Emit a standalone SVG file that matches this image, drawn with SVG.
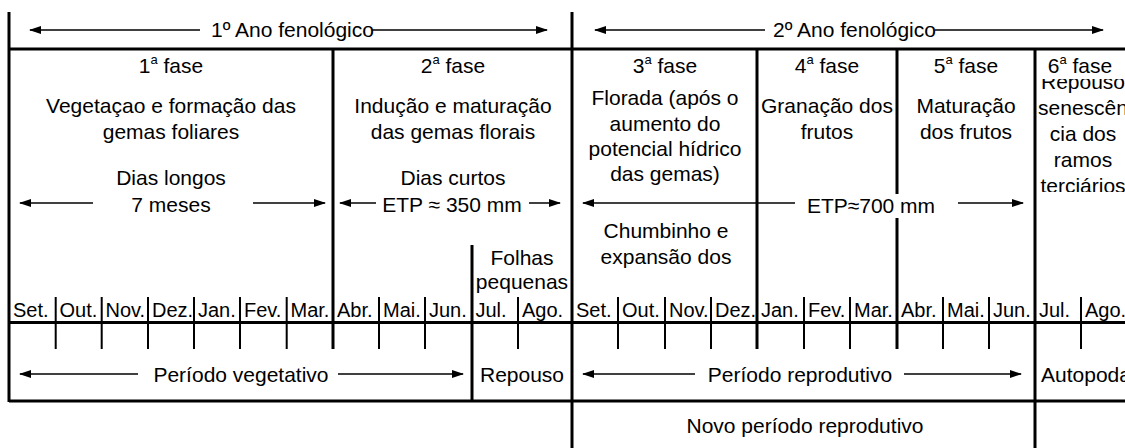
<svg xmlns="http://www.w3.org/2000/svg" width="1125" height="448" viewBox="0 0 1125 448">
<style>
text{font-family:"Liberation Sans",Arial,sans-serif;font-size:21px;fill:#000}
#months text{font-size:20px}
.c{text-anchor:middle}
.sup{font-size:13px}
.g{stroke:#000;stroke-width:3;fill:none}
.t{stroke:#000;stroke-width:2;fill:none}
.a{stroke:#000;stroke-width:1.5;fill:none}
.ar{marker-end:url(#ah)}
.al{marker-start:url(#ah)}
</style>
<defs>
<marker id="ah" viewBox="0 0 12 8" refX="11" refY="4" markerWidth="12" markerHeight="8" markerUnits="userSpaceOnUse" orient="auto-start-reverse">
<path d="M0,0 L12,4 L0,8 z" fill="#000"/>
</marker>
<clipPath id="clip6"><rect x="1036" y="79" width="100" height="113"/></clipPath>
</defs>
<rect width="1125" height="448" fill="#fff"/>

<g id="grid">
<path class="g" d="M9,12V402 M9,49H1125 M9,322.5H1125 M9,401H1125"/>
<path class="g" d="M333,49V349 M472,245V402 M572,12V448 M757,49V349 M897,49V349 M1035,49V448"/>
</g>

<g id="month-ticks">
<path class="t" d="M55.7,297V349 M101.7,297V349 M148,297V349 M194,297V349 M240,297V349 M286.7,297V349 M379,297V349 M425,297V349 M518,297V349 M618,297V349 M665,297V349 M711,297V349 M804,297V349 M850,297V349 M943,297V349 M989,297V349 M1081,297V349"/>
</g>

<g id="connectors">
<line class="a al" x1="30" y1="30" x2="200" y2="30"/>
<line class="a ar" x1="372" y1="30" x2="547" y2="30"/>
<line class="a al" x1="595" y1="30" x2="765" y2="30"/>
<line class="a ar" x1="935" y1="30" x2="1103" y2="30"/>
<line class="a al" x1="20" y1="203" x2="93" y2="203"/>
<line class="a ar" x1="253" y1="203" x2="325" y2="203"/>
<line class="a al" x1="340" y1="203" x2="376" y2="203"/>
<line class="a ar" x1="529" y1="203" x2="560" y2="203"/>
<line class="a al" x1="583" y1="203" x2="795" y2="203"/>
<line class="a ar" x1="958" y1="203" x2="1023" y2="203"/>
<line class="a al" x1="20" y1="374" x2="138" y2="374"/>
<line class="a ar" x1="338" y1="374" x2="463" y2="374"/>
<line class="a al" x1="583" y1="374" x2="695" y2="374"/>
<line class="a ar" x1="904" y1="374" x2="1021" y2="374"/>
</g>

<g id="year1"><text x="211" y="37">1º Ano fenológico</text></g>
<g id="year2"><text x="773" y="37">2º Ano fenológico</text></g>

<g id="phase1">
<text class="c" x="171" y="73">1<tspan class="sup" dy="-9">a</tspan><tspan dy="9"> fase</tspan></text>
<text class="c" x="171" y="113">Vegetaçao e formação das</text>
<text class="c" x="171" y="139">gemas foliares</text>
<text class="c" x="171" y="185">Dias longos</text>
<text class="c" x="171" y="212">7 meses</text>
</g>
<g id="phase2">
<text class="c" x="453" y="73">2<tspan class="sup" dy="-9">a</tspan><tspan dy="9"> fase</tspan></text>
<text class="c" x="453" y="113">Indução e maturação</text>
<text class="c" x="453" y="139">das gemas florais</text>
<text class="c" x="453" y="185">Dias curtos</text>
<text class="c" x="452" y="212">ETP ≈ 350 mm</text>
</g>
<g id="phase3">
<text class="c" x="665" y="73">3<tspan class="sup" dy="-9">a</tspan><tspan dy="9"> fase</tspan></text>
<text class="c" x="665" y="105">Florada (após o</text>
<text class="c" x="665" y="131">aumento do</text>
<text class="c" x="665" y="156">potencial hídrico</text>
<text class="c" x="665" y="181">das gemas)</text>
<text class="c" x="666" y="238">Chumbinho e</text>
<text class="c" x="666" y="264">expansão dos</text>
</g>
<g id="etp700">
<rect x="800" y="194" width="150" height="24" fill="#fff"/>
<text class="c" x="871" y="213">ETP≈700 mm</text>
</g>
<g id="phase4">
<text class="c" x="827" y="73">4<tspan class="sup" dy="-9">a</tspan><tspan dy="9"> fase</tspan></text>
<text class="c" x="827" y="113">Granação dos</text>
<text class="c" x="827" y="139">frutos</text>
</g>
<g id="phase5">
<text class="c" x="966" y="73">5<tspan class="sup" dy="-9">a</tspan><tspan dy="9"> fase</tspan></text>
<text class="c" x="966" y="113">Maturação</text>
<text class="c" x="966" y="139">dos frutos</text>
</g>
<g id="phase6">
<text class="c" x="1080" y="73">6<tspan class="sup" dy="-9">a</tspan><tspan dy="9"> fase</tspan></text>
<g clip-path="url(#clip6)">
<text class="c" x="1083" y="89">Repouso</text>
<text class="c" x="1083" y="115">senescên</text>
<text class="c" x="1083" y="141">cia dos</text>
<text class="c" x="1083" y="167">ramos</text>
<text class="c" x="1083" y="193">terciários</text>
</g>
</g>
<g id="folhas">
<text class="c" x="522" y="265">Folhas</text>
<text class="c" x="522" y="289">pequenas</text>
</g>

<g id="months">
<text x="13" y="317">Set.</text>
<text x="59.5" y="317">Out.</text>
<text x="105.5" y="317">Nov.</text>
<text x="152" y="317">Dez.</text>
<text x="198" y="317">Jan.</text>
<text x="244" y="317">Fev.</text>
<text x="290.5" y="317">Mar.</text>
<text x="337" y="317">Abr.</text>
<text x="383" y="317">Mai.</text>
<text x="429" y="317">Jun.</text>
<text x="475.5" y="317">Jul.</text>
<text x="522" y="317">Ago.</text>
<text x="576" y="317">Set.</text>
<text x="622" y="317">Out.</text>
<text x="669" y="317">Nov.</text>
<text x="715" y="317">Dez.</text>
<text x="761" y="317">Jan.</text>
<text x="808" y="317">Fev.</text>
<text x="854" y="317">Mar.</text>
<text x="901" y="317">Abr.</text>
<text x="947" y="317">Mai.</text>
<text x="993" y="317">Jun.</text>
<text x="1039" y="317">Jul.</text>
<text x="1085" y="317">Ago.</text>
</g>

<g id="periods">
<text class="c" x="241" y="382">Período vegetativo</text>
<text class="c" x="522" y="382">Repouso</text>
<text class="c" x="800" y="382">Período reprodutivo</text>
<text x="1041" y="382">Autopoda</text>
<text class="c" x="805" y="433">Novo período reprodutivo</text>
</g>
</svg>
